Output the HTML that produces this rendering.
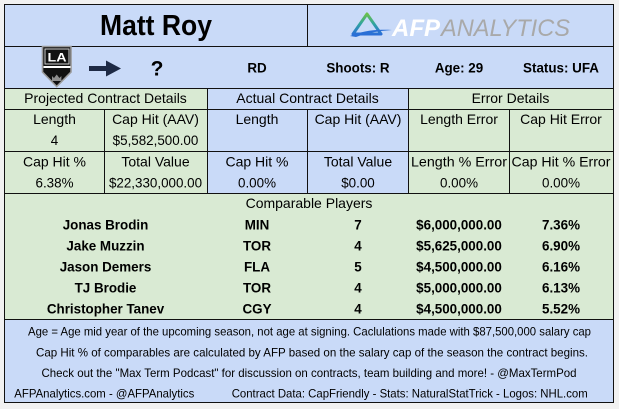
<!DOCTYPE html>
<html><head><meta charset="utf-8"><style>
html,body{margin:0;padding:0;background:#f1f1f1;}
svg{display:block;}
text{font-family:"Liberation Sans",Arial,sans-serif;fill:#000;}
.r{font-size:14px;}
.n{font-size:13.4px;}
.b{font-size:13.4px;font-weight:bold;}
.s{font-size:11.6px;}
</style></head><body>
<svg width="619" height="409" viewBox="0 0 619 409" xmlns="http://www.w3.org/2000/svg">
<defs>
<linearGradient id="tg" x1="0" y1="0" x2="0" y2="1">
<stop offset="0" stop-color="#6cc04a"/><stop offset="0.5" stop-color="#2fa4a0"/><stop offset="1" stop-color="#2a6fd6"/>
</linearGradient>
</defs>
<rect width="619" height="409" fill="#f1f1f1"/>
<!-- fills -->
<rect x="4" y="4" width="609" height="84" fill="#c9daf8"/>
<rect x="4" y="88" width="203" height="105" fill="#d9ead3"/>
<rect x="207" y="88" width="201" height="105" fill="#c9daf8"/>
<rect x="408" y="88" width="205" height="105" fill="#d9ead3"/>
<rect x="4" y="193" width="609" height="126" fill="#d9ead3"/>
<rect x="4" y="319" width="609" height="83" fill="#c9daf8"/>
<!-- lines -->
<g stroke="#111" stroke-width="1" fill="none">
<rect x="4.5" y="4.5" width="609" height="398"/>
<line x1="4" y1="46.5" x2="613" y2="46.5"/>
<line x1="4" y1="88.5" x2="613" y2="88.5"/>
<line x1="4" y1="109.5" x2="613" y2="109.5"/>
<line x1="4" y1="151.5" x2="613" y2="151.5"/>
<line x1="4" y1="193.5" x2="613" y2="193.5"/>
<line x1="4" y1="319.5" x2="613" y2="319.5"/>
<line x1="307.5" y1="4" x2="307.5" y2="46"/>
<line x1="207.5" y1="88" x2="207.5" y2="193"/>
<line x1="408.5" y1="88" x2="408.5" y2="193"/>
<line x1="104.5" y1="109" x2="104.5" y2="193"/>
<line x1="307.5" y1="109" x2="307.5" y2="193"/>
<line x1="509.5" y1="109" x2="509.5" y2="193"/>
</g>
<!-- title -->
<text x="156" y="35" text-anchor="middle" font-size="29" font-weight="bold" textLength="112" lengthAdjust="spacingAndGlyphs">Matt Roy</text>
<!-- AFP logo -->
<g fill="none" stroke="url(#tg)" stroke-width="3" stroke-linejoin="round">
<path d="M367,14 L381,34 L353,34 Z"/>
</g>
<path d="M350,36 C362,31 376,29 392,30 C378,31 366,33 356,37 Z" fill="#2a6fd6"/>
<text x="392" y="36" font-size="24" font-weight="bold" font-style="italic" style="fill:#ffffff" textLength="48" lengthAdjust="spacingAndGlyphs">AFP</text>
<text x="441" y="36" font-size="24" font-style="italic" style="fill:#a9a9a9" textLength="129" lengthAdjust="spacingAndGlyphs">ANALYTICS</text>
<!-- LA logo -->
<path d="M42.5,46.5 H71 V72 L56.7,86.5 L42.5,72 Z" fill="#111" stroke="#9a9a9a" stroke-width="1.6"/>
<rect x="45" y="49" width="24" height="15" fill="#111" stroke="#cfcfcf" stroke-width="1"/>
<text x="57" y="61.5" text-anchor="middle" font-size="12" font-weight="bold" style="fill:#fff" textLength="19" lengthAdjust="spacingAndGlyphs">LA</text>
<rect x="43.5" y="66" width="27" height="2" fill="#fff"/>
<path d="M52,81 L52,76 L54,78 L56.7,74.5 L59.4,78 L61.4,76 L61.4,81 Z" fill="#8d8d8d"/>
<!-- arrow -->
<path d="M89,66 H106 V60.5 L121,68.5 L106,76.5 V71 H89 Z" fill="#1e2a45"/>
<text x="157" y="75.5" text-anchor="middle" font-size="21" font-weight="bold">?</text>
<!-- row 2 -->
<text class="b" x="257" y="72.5" text-anchor="middle">RD</text>
<text class="b" x="358" y="72.5" text-anchor="middle">Shoots: R</text>
<text class="b" x="459" y="72.5" text-anchor="middle">Age: 29</text>
<text class="b" x="561" y="72.5" text-anchor="middle">Status: UFA</text>
<!-- headers -->
<text class="r" x="105.5" y="103" text-anchor="middle">Projected Contract Details</text>
<text class="r" x="307.5" y="103" text-anchor="middle">Actual Contract Details</text>
<text class="r" x="510.5" y="103" text-anchor="middle">Error Details</text>
<!-- row 3 -->
<text class="r" x="54.5" y="124" text-anchor="middle">Length</text>
<text class="r" x="155.5" y="124" text-anchor="middle">Cap Hit (AAV)</text>
<text class="r" x="257" y="124" text-anchor="middle">Length</text>
<text class="r" x="358" y="124" text-anchor="middle">Cap Hit (AAV)</text>
<text class="r" x="459" y="124" text-anchor="middle">Length Error</text>
<text class="r" x="561" y="124" text-anchor="middle">Cap Hit Error</text>
<text class="n" x="54.5" y="145" text-anchor="middle">4</text>
<text class="n" x="155.5" y="145" text-anchor="middle">$5,582,500.00</text>
<!-- row 4 -->
<text class="r" x="54.5" y="166.5" text-anchor="middle">Cap Hit %</text>
<text class="r" x="155.5" y="166.5" text-anchor="middle">Total Value</text>
<text class="r" x="257" y="166.5" text-anchor="middle">Cap Hit %</text>
<text class="r" x="358" y="166.5" text-anchor="middle">Total Value</text>
<text class="r" x="459" y="166.5" text-anchor="middle" textLength="96" lengthAdjust="spacingAndGlyphs">Length % Error</text>
<text class="r" x="561" y="166.5" text-anchor="middle" textLength="99" lengthAdjust="spacingAndGlyphs">Cap Hit % Error</text>
<text class="n" x="54.5" y="187.5" text-anchor="middle">6.38%</text>
<text class="n" x="155.5" y="187.5" text-anchor="middle">$22,330,000.00</text>
<text class="n" x="257" y="187.5" text-anchor="middle">0.00%</text>
<text class="n" x="358" y="187.5" text-anchor="middle">$0.00</text>
<text class="n" x="459" y="187.5" text-anchor="middle">0.00%</text>
<text class="n" x="561" y="187.5" text-anchor="middle">0.00%</text>
<!-- comparables -->
<text class="r" x="309" y="208" text-anchor="middle">Comparable Players</text>
<g class="b">
<text class="b" x="105.5" y="229.5" text-anchor="middle">Jonas Brodin</text>
<text class="b" x="257" y="229.5" text-anchor="middle">MIN</text>
<text class="b" x="358" y="229.5" text-anchor="middle">7</text>
<text class="b" x="459" y="229.5" text-anchor="middle">$6,000,000.00</text>
<text class="b" x="561" y="229.5" text-anchor="middle">7.36%</text>

<text class="b" x="105.5" y="250.5" text-anchor="middle">Jake Muzzin</text>
<text class="b" x="257" y="250.5" text-anchor="middle">TOR</text>
<text class="b" x="358" y="250.5" text-anchor="middle">4</text>
<text class="b" x="459" y="250.5" text-anchor="middle">$5,625,000.00</text>
<text class="b" x="561" y="250.5" text-anchor="middle">6.90%</text>

<text class="b" x="105.5" y="271.5" text-anchor="middle">Jason Demers</text>
<text class="b" x="257" y="271.5" text-anchor="middle">FLA</text>
<text class="b" x="358" y="271.5" text-anchor="middle">5</text>
<text class="b" x="459" y="271.5" text-anchor="middle">$4,500,000.00</text>
<text class="b" x="561" y="271.5" text-anchor="middle">6.16%</text>

<text class="b" x="105.5" y="292.5" text-anchor="middle">TJ Brodie</text>
<text class="b" x="257" y="292.5" text-anchor="middle">TOR</text>
<text class="b" x="358" y="292.5" text-anchor="middle">4</text>
<text class="b" x="459" y="292.5" text-anchor="middle">$5,000,000.00</text>
<text class="b" x="561" y="292.5" text-anchor="middle">6.13%</text>

<text class="b" x="105.5" y="313.5" text-anchor="middle">Christopher Tanev</text>
<text class="b" x="257" y="313.5" text-anchor="middle">CGY</text>
<text class="b" x="358" y="313.5" text-anchor="middle">4</text>
<text class="b" x="459" y="313.5" text-anchor="middle">$4,500,000.00</text>
<text class="b" x="561" y="313.5" text-anchor="middle">5.52%</text>
</g>
<!-- notes -->
<text class="s" x="309.5" y="335.7" text-anchor="middle" textLength="563" lengthAdjust="spacingAndGlyphs">Age = Age mid year of the upcoming season, not age at signing. Caclulations made with $87,500,000 salary cap</text>
<text class="s" x="312" y="356.3" text-anchor="middle" textLength="552" lengthAdjust="spacingAndGlyphs">Cap Hit % of comparables are calculated by AFP based on the salary cap of the season the contract begins.</text>
<text class="s" x="309" y="377" text-anchor="middle" textLength="535" lengthAdjust="spacingAndGlyphs">Check out the "Max Term Podcast" for discussion on contracts, team building and more! - @MaxTermPod</text>
<text class="s" x="14.3" y="397.7" textLength="180" lengthAdjust="spacingAndGlyphs">AFPAnalytics.com - @AFPAnalytics</text>
<text class="s" x="231.7" y="397.7" textLength="356" lengthAdjust="spacingAndGlyphs">Contract Data: CapFriendly - Stats: NaturalStatTrick - Logos: NHL.com</text>
</svg>
</body></html>
